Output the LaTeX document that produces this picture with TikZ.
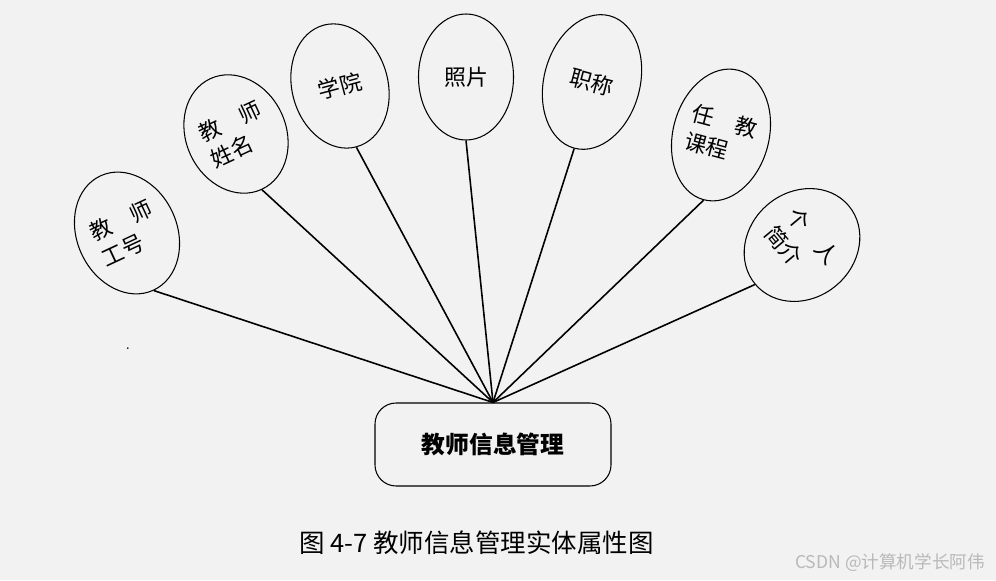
\documentclass[tikz,border=0pt]{standalone}
\usepackage{fontspec}
\usepackage{tikz}
\usetikzlibrary{shapes.geometric}
\newfontfamily\cjk{Noto Sans CJK SC}
\definecolor{pagegray}{RGB}{242,242,242}
\definecolor{markgray}{RGB}{185,185,185}

\begin{document}
\begin{tikzpicture}[
  attr/.style={draw,ellipse,inner sep=0pt,fill=pagegray,line width=0.6pt,
    font=\cjk\fontsize{12.5}{16}\selectfont,align=left},
  entity/.style={draw,rounded corners=12pt,minimum width=4.72cm,minimum height=1.66cm,
    fill=pagegray,line width=0.6pt,font=\cjk\bfseries\fontsize{13.5}{16}\selectfont},
  link/.style={line width=0.9pt}
]
\fill[pagegray] (0,0) rectangle (19.92,11.6);
\useasboundingbox (0,0) rectangle (19.92,11.6);

\node[entity] (M) at (9.86,2.71) {教师信息管理};

\node[attr,minimum width=2cm,minimum height=2.52cm,rotate=25]
  (gh) at (2.54,6.94) {教\quad 师\\工号};
\node[attr,minimum width=2cm,minimum height=2.44cm,rotate=25]
  (xm) at (4.72,8.92) {教\quad 师\\姓名};
\node[attr,minimum width=1.92cm,minimum height=2.52cm,rotate=15]
  (xy) at (6.80,9.88) {学院};
\node[attr,minimum width=1.9cm,minimum height=2.52cm]
  (zp) at (9.32,10.06) {照片};
\node[attr,minimum width=1.92cm,minimum height=2.74cm,rotate=-15]
  (zc) at (11.84,9.96) {职称};
\node[attr,minimum width=1.92cm,minimum height=2.68cm,rotate=-15]
  (kc) at (14.42,8.90) {任\quad 教\\课程};
\node[attr,minimum width=2.12cm,minimum height=2.44cm,rotate=-50]
  (jj) at (16.04,6.70) {个\quad 人\\简介};

\draw[link] (M.north) -- (gh.south);
\draw[link] (M.north) -- (xm.south);
\draw[link] (M.north) -- (xy.south);
\draw[link] (M.north) -- (zp.south);
\draw[link] (M.north) -- (zc.south);
\draw[link] (M.north) -- (kc.south);
\draw[link] (M.north) -- (jj.south);

\node[inner sep=0pt,font=\small] (dot) at (2.56,4.62) {.};
\node[font=\cjk\fontsize{14.5}{17}\selectfont] (cap) at (9.53,0.74)
  {图 4-7 教师信息管理实体属性图};
\node[font=\cjk\fontsize{10}{12}\selectfont,text=markgray] (mark) at (17.8,0.34)
  {CSDN @计算机学长阿伟};
\end{tikzpicture}
\end{document}
